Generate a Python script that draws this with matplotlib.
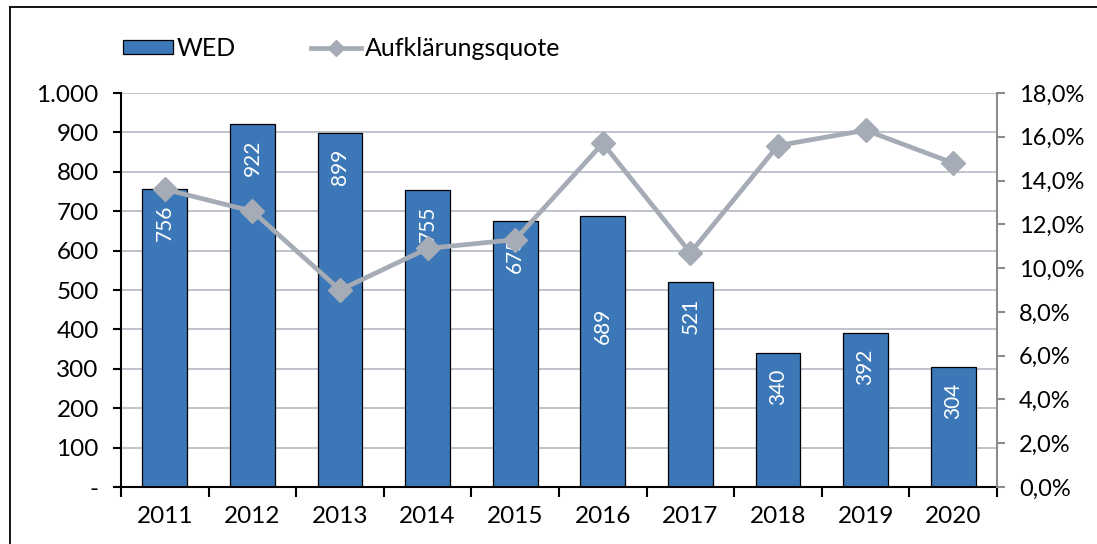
import matplotlib
matplotlib.use('Agg')
import matplotlib.pyplot as plt
from matplotlib.lines import Line2D
from matplotlib.ticker import FuncFormatter, FixedLocator

plt.rcParams['font.family'] = ['Lato', 'DejaVu Sans']

# Daten
jahre = ['2011', '2012', '2013', '2014', '2015', '2016', '2017', '2018', '2019', '2020']
wed = [756, 922, 899, 755, 675, 689, 521, 340, 392, 304]
quote = [13.6, 12.6, 9.0, 10.9, 11.3, 15.7, 10.7, 15.6, 16.3, 14.8]

bar_col = '#3C78B8'
line_col = '#A5ACB5'
grid_col = '#B4BAC4'

fig = plt.figure(figsize=(10.97, 5.44), dpi=100)
ax = fig.add_axes([121 / 1097, 1 - 487 / 544, 876 / 1097, 394 / 544])
ax2 = ax.twinx()

x = list(range(len(jahre)))
bars = ax.bar(x, wed, width=0.51, color=bar_col, edgecolor='black', linewidth=0.9,
              zorder=2, label='WED')
ax.set_xlim(-0.5, len(jahre) - 0.5)
ax.set_ylim(0, 1000)
ax.set_yticks(range(0, 1001, 100))
ax.yaxis.set_major_formatter(FuncFormatter(
    lambda v, p: '-' if v == 0 else f'{int(v):,}'.replace(',', '.')))
ax.grid(axis='y', color=grid_col, linewidth=1.2, zorder=0)
ax.set_axisbelow(True)

# x-Achse: Beschriftung mittig, Striche zwischen den Kategorien
ax.set_xticks(x)
ax.set_xticklabels(jahre)
ax.tick_params(axis='x', which='major', length=0, pad=14, labelsize=17.5)
ax.xaxis.set_minor_locator(FixedLocator([i - 0.5 for i in range(len(jahre) + 1)]))
ax.tick_params(axis='x', which='minor', length=7, width=1.5, color='black', direction='out')
ax.tick_params(axis='y', length=6, width=1.5, color='black', labelsize=17.5, pad=10)

for s in ['top', 'right']:
    ax.spines[s].set_visible(False)
ax.spines['left'].set_linewidth(1.5)
ax.spines['bottom'].set_linewidth(1.5)

# Werte in den Balken
extra = {5: 76}
for i, v in enumerate(wed):
    ax.annotate(str(v), xy=(i, v), xytext=(0, -34 - extra.get(i, 0)),
                textcoords='offset pixels', rotation=90, ha='center', va='center',
                color='white', fontsize=15, zorder=3)

# Aufklärungsquote
ax2.plot(x, quote, color=line_col, linewidth=3.4, marker='D', markersize=12,
         label='Aufklärungsquote', zorder=4)
ax2.set_ylim(0, 18)
ax2.set_yticks(range(0, 19, 2))
ax2.yaxis.set_major_formatter(FuncFormatter(lambda v, p: f'{v:.1f}%'.replace('.', ',')))
ax2.tick_params(axis='y', length=6, width=1.5, color='#8C8C8C', labelsize=17, pad=10)
for s in ['top', 'left', 'bottom']:
    ax2.spines[s].set_visible(False)
ax2.spines['right'].set_color('#8C8C8C')
ax2.spines['right'].set_linewidth(1.5)

# Legende
handles = [bars, Line2D([], [], color=line_col, linewidth=3.4, marker='D', markersize=8)]
fig.legend(handles, ['WED', 'Aufklärungsquote'], loc='center left',
           bbox_to_anchor=(123 / 1097, 1 - 48 / 544), ncol=2, frameon=False,
           fontsize=18, handlelength=2.0, handleheight=0.5, handletextpad=0.15,
           columnspacing=3.0, borderpad=0, borderaxespad=0)

# Rahmen
fig.add_artist(Line2D([10 / 1097, 10 / 1097], [0, 1 - 7 / 544], color='black',
                      linewidth=1.3, transform=fig.transFigure))
fig.add_artist(Line2D([10 / 1097, 1], [1 - 7 / 544, 1 - 7 / 544], color='black',
                      linewidth=1.3, transform=fig.transFigure))

fig.savefig('out.png', dpi=100)
